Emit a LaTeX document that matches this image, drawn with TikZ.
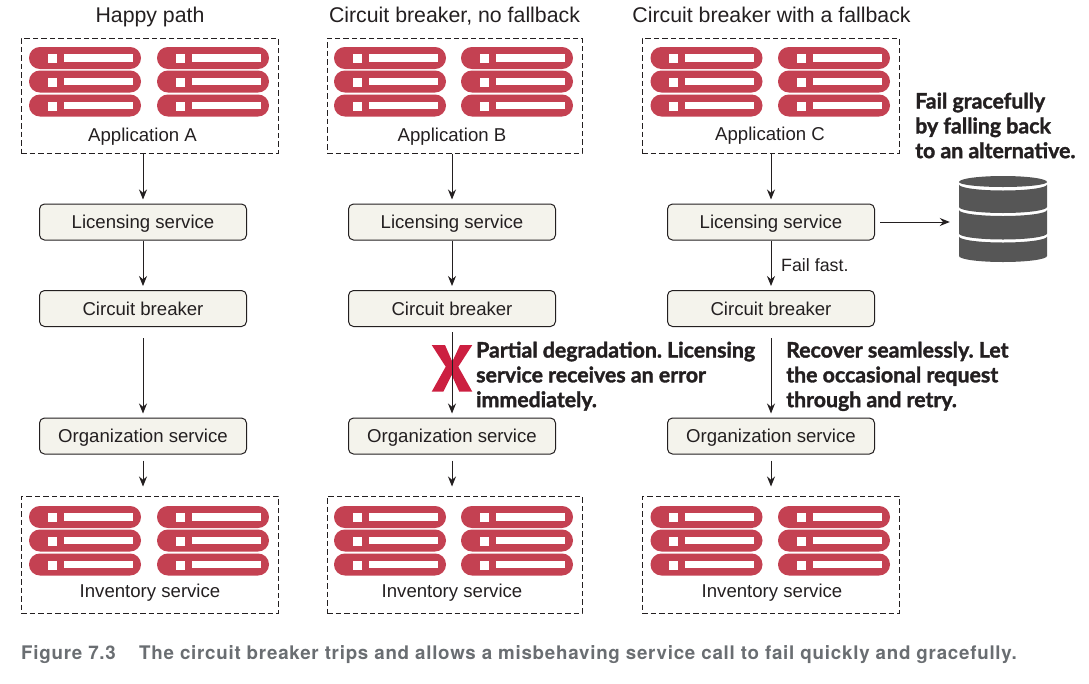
\documentclass[tikz,border=0pt]{standalone}
\usepackage{fontspec}
\setmainfont{Liberation Sans}
\newfontfamily\calloutfont[BoldFeatures={FakeBold=1.6}]{Lato}
\newfontfamily\captionfont[LetterSpace=4]{TeX Gyre Heros}
\usetikzlibrary{arrows.meta}
\definecolor{pillred}{HTML}{C44152}
\definecolor{xred}{HTML}{CC1F40}
\definecolor{boxfill}{HTML}{F4F3EC}
\definecolor{ink}{HTML}{231F20}
\definecolor{dbgray}{HTML}{565656}
\definecolor{capgray}{HTML}{6A6E72}
\tikzset{
  svc/.style={draw=ink,fill=boxfill,rounded corners=5pt,line width=1pt,minimum width=207pt,minimum height=36pt,inner sep=0pt,text=ink,font=\fontsize{18.6}{20}\selectfont},
  dashbox/.style={draw=ink,dash pattern=on 5.5pt off 3pt,line width=1pt,minimum width=257pt,inner sep=0pt},
  lbl/.style={inner sep=0pt,text=ink,font=\fontsize{18.6}{20}\selectfont},
  ttl/.style={inner sep=0pt,text=ink,text height=15pt,text depth=4.5pt,font=\fontsize{21.3}{23}\selectfont},
  callout/.style={inner sep=0pt,anchor=north west,align=left,text=ink,font=\frenchspacing\calloutfont\bfseries\fontsize{21.3}{24.8}\selectfont},
  arr/.style={draw=ink,line width=1pt,-{Stealth[length=10pt,width=8pt]},shorten >=4pt},
  pill/.style={fill=pillred,rounded corners=10.9pt},
  capt/.style={inner sep=0pt,anchor=west,text=capgray,font=\captionfont\bfseries\fontsize{18.75}{20}\selectfont},
}
% two columns of three pills; #1,#2 = left edges, #3 = top
\newcommand{\pillstack}[3]{%
  \foreach \px in {#1,#2}{%
    \foreach \py/\ph in {0/22,23.5/22,47.5/22}{%
      \pgfmathsetmacro{\ptop}{#3+\py}%
      \fill[pill] (\px,\ptop) rectangle ++(112,\ph);
      \fill[white] (\px+18.5,\ptop+7) rectangle ++(9,9);
      \fill[white] (\px+34.5,\ptop+7) rectangle ++(69,7.5);
    }%
  }%
}
% one cylinder band: #1 top edge y, #2 bottom edge y
\newcommand{\dbband}[2]{%
  \fill[dbgray] (959,#1) arc[start angle=180,end angle=0,x radius=44,y radius=6] -- (1047,#2)
    arc[start angle=0,end angle=180,x radius=44,y radius=6] -- cycle;
}
\newcommand{\svctext}[1]{\raisebox{-6pt}[0pt][0pt]{#1}}
\begin{document}
\begin{tikzpicture}[x=1pt,y=-1pt]
\useasboundingbox (0,0) rectangle (1089,683);
% titles
\node[ttl] (t1) at (150,17.5) {Happy path};
\node[ttl] (t2) at (454.5,17.5) {Circuit breaker, no fallback};
\node[ttl] (t3) at (771.5,17.5) {Circuit breaker with a fallback};
% dashed containers
\node[dashbox,minimum height=115pt] (appA) at (149.5,95.5) {};
\node[dashbox,minimum width=255pt,minimum height=115pt] (appB) at (454.5,95.5) {};
\node[dashbox,minimum height=115pt] (appC) at (770.5,95.5) {};
\node[dashbox,minimum height=117pt] (invA) at (149.5,554.5) {};
\node[dashbox,minimum width=255pt,minimum height=117pt] (invB) at (454.5,554.5) {};
\node[dashbox,minimum height=117pt] (invC) at (770.5,554.5) {};
\pillstack{29}{157}{47}
\pillstack{334}{461}{47}
\pillstack{650.5}{778}{47}
\pillstack{29}{157}{506}
\pillstack{334}{461}{506}
\pillstack{650.5}{778}{506}
\node[lbl] (lA) at (142.5,136.5) {Application A};
\node[lbl] (lB) at (452,136.5) {Application B};
\node[lbl] (lC) at (770,135.5) {Application C};
\node[lbl] (iA) at (150,592.5) {Inventory service};
\node[lbl] (iB) at (452,592.5) {Inventory service};
\node[lbl] (iC) at (772,592.5) {Inventory service};
% services
\foreach \n/\cx in {A/143,B/452,C/771}{
  \node[svc] (lic\n) at (\cx,222) {\svctext{Licensing service}};
  \node[svc] (cb\n) at (\cx,308.5) {\raisebox{-6.5pt}[0pt][0pt]{Circuit breaker}};
  \node[svc] (org\n) at (\cx,436) {\svctext{Organization service}};
}
% red X under the arrow
\fill[xred] (431.7,345) -- (445,345) -- (452.3,361.7) -- (460,345) -- (472.3,345)
  -- (458.3,366.7) -- (472.3,391.7) -- (459.3,391.7) -- (451.7,375) -- (443.3,391.7)
  -- (431.7,391.7) -- (445.7,366.7) -- cycle;
% connectors
\foreach \n in {A,B,C}{
  \draw[arr] (app\n.south -| lic\n.north) -- (lic\n.north);
  \draw[arr] (lic\n) -- (cb\n);
  \draw[arr,shorten <=6pt,shorten >=9pt] (org\n.south) -- (org\n.south |- inv\n.north);
}
\draw[arr,shorten <=11pt] (cbA) -- (orgA);
\draw[arr,shorten <=5pt] (cbB) -- (orgB);
\draw[arr,shorten <=11pt] (cbC) -- (orgC);
% database
\node[inner sep=0pt,minimum width=88pt,minimum height=86pt] (db) at (1003,219) {};
\fill[dbgray] (959,182) arc[start angle=180,end angle=360,x radius=44,y radius=6]
  arc[start angle=0,end angle=180,x radius=44,y radius=5] -- cycle;
\dbband{184.5}{207}
\dbband{210}{233.5}
\dbband{236.5}{256}
\draw[arr,shorten <=5pt,shorten >=9pt] (licC.east) -- (licC.east -| db.west);
% texts
\node[lbl,anchor=west,font=\fontsize{17.8}{20}\selectfont] (ff) at (781,265.5) {Fail fast.};
\node[callout] (c1) at (915,92.5) {Fail gracefully\\by falling back\\to an alternative.};
\node[callout] (c2) at (476,341.5) {Partial degradation. Licensing\\service receives an error\\immediately.};
\node[callout] (c3) at (786,341.5) {Recover seamlessly. Let\\the occasional request\\through and retry.};
\node[capt] (fig) at (21,654.5) {Figure 7.3};
\node[capt] (cap) at (139,654.5) {The circuit breaker trips and allows a misbehaving service call to fail quickly and gracefully.};
\end{tikzpicture}
\end{document}
